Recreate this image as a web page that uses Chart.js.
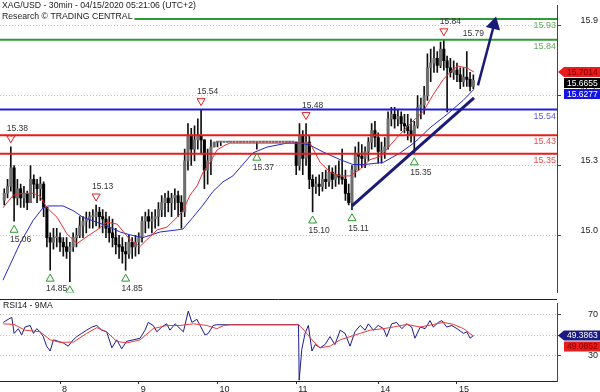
<!DOCTYPE html>
<html>
<head>
<meta charset="utf-8">
<script src="https://cdn.jsdelivr.net/npm/chart.js@4/dist/chart.umd.min.js"></script>
<style>
  html, body { margin: 0; padding: 0; background: #fff; }
  #wrap { position: relative; width: 600px; height: 392px; overflow: hidden; }
  #priceBox { position: absolute; left: 0; top: 0; width: 600px; height: 298px; }
  #rsiBox { position: absolute; left: 0; top: 298px; width: 600px; height: 94px; }
</style>
</head>
<body>
<div id="wrap">
  <div id="priceBox"><canvas id="priceChart" width="600" height="298"></canvas></div>
  <div id="rsiBox"><canvas id="rsiChart" width="600" height="94"></canvas></div>
</div>
<script>
const FONT = '"Liberation Sans", Arial, Helvetica, sans-serif';

const titleLines = ['XAG/USD - 30min - 04/15/2020 05:21:06 (UTC+2)', 'Research © TRADING CENTRAL'];
const rsiTitle = 'RSI14 - 9MA';

// x axis is in hours (weekend skipped), day labels sit on these hours
const dayTickHours = [24, 48, 72, 96, 121, 145];
const dayTickLabels = ['8', '9', '10', '11', '14', '15'];
const priceTicks = [15.0, 15.3, 15.6, 15.9];
const rsiTicks = [30, 50, 70];

// hourly candles, first one at hour 7; open = previous close
const firstHour = 7;
const firstOpen = 15.15;
const highs = [
  15.20, 15.24, 15.38, 15.30, 15.24, 15.22, 15.21, 15.19, 15.30, 15.26, 15.24, 15.25,
  15.23, 15.12, 15.01, 15.03, 15.03, 15.01, 14.99, 14.99, 14.97, 15.01, 15.03, 15.08,
  15.08, 15.10, 15.10, 15.11, 15.13, 15.12, 15.11, 15.10, 15.08, 15.07, 15.03, 15.00,
  14.99, 14.97, 15.00, 14.99, 15.00, 15.01, 15.08, 15.10, 15.11, 15.10, 15.11, 15.14,
  15.17, 15.18, 15.19, 15.18, 15.20, 15.19, 15.17, 15.37, 15.48, 15.46, 15.47, 15.50,
  15.54, 15.41, 15.37, 15.41, 15.40, 15.40, 15.40, 15.40, 15.40, 15.40, 15.40, 15.40,
  15.40, 15.40, 15.40, 15.40, 15.40, 15.40, 15.40, 15.40, 15.40, 15.40, 15.40, 15.40,
  15.40, 15.40, 15.40, 15.40, 15.40, 15.40, 15.48, 15.45, 15.48, 15.43, 15.26, 15.25,
  15.26, 15.27, 15.28, 15.30, 15.29, 15.30, 15.32, 15.37, 15.28, 15.22, 15.30, 15.38,
  15.40, 15.39, 15.38, 15.42, 15.48, 15.49, 15.44, 15.40, 15.42, 15.53, 15.55, 15.55,
  15.54, 15.53, 15.52, 15.52, 15.50, 15.49, 15.60, 15.59, 15.64, 15.78, 15.80, 15.81,
  15.79, 15.83, 15.84, 15.77, 15.76, 15.75, 15.74, 15.72, 15.72, 15.79, 15.70, 15.69
];
const lows = [
  15.13, 15.16, 15.19, 15.06, 15.13, 15.12, 15.12, 15.11, 15.14, 15.16, 15.14, 15.15,
  15.08, 14.95, 14.85, 14.94, 14.95, 14.93, 14.91, 14.90, 14.80, 14.93, 14.95, 14.99,
  14.99, 15.01, 15.03, 15.03, 15.04, 15.03, 15.01, 14.99, 14.97, 14.95, 14.92, 14.90,
  14.88, 14.85, 14.90, 14.90, 14.91, 14.92, 14.97, 15.01, 15.03, 15.01, 15.03, 15.04,
  15.08, 15.08, 15.10, 15.08, 15.11, 15.08, 15.03, 15.08, 15.28, 15.30, 15.32, 15.37,
  15.35, 15.20, 15.22, 15.26, 15.38, 15.38, 15.385, 15.40, 15.40, 15.40, 15.40, 15.40,
  15.40, 15.40, 15.40, 15.40, 15.40, 15.37, 15.40, 15.40, 15.40, 15.40, 15.40, 15.40,
  15.40, 15.40, 15.40, 15.40, 15.40, 15.26, 15.28, 15.26, 15.30, 15.20, 15.10, 15.18,
  15.17, 15.19, 15.20, 15.21, 15.20, 15.21, 15.22, 15.22, 15.15, 15.13, 15.11, 15.25,
  15.28, 15.29, 15.29, 15.32, 15.37, 15.38, 15.31, 15.31, 15.33, 15.37, 15.47, 15.46,
  15.47, 15.45, 15.44, 15.41, 15.40, 15.35, 15.46, 15.50, 15.52, 15.58, 15.66, 15.70,
  15.70, 15.72, 15.71, 15.53, 15.68, 15.67, 15.66, 15.63, 15.64, 15.64, 15.62, 15.63
];
const closes = [
  15.18, 15.21, 15.29, 15.16, 15.20, 15.16, 15.18, 15.14, 15.24, 15.22, 15.20, 15.22,
  15.12, 14.99, 14.97, 14.99, 14.99, 14.97, 14.95, 14.93, 14.95, 14.99, 15.00, 15.04,
  15.06, 15.07, 15.08, 15.08, 15.10, 15.08, 15.07, 15.03, 15.01, 14.99, 14.96, 14.95,
  14.93, 14.92, 14.97, 14.95, 14.97, 14.99, 15.06, 15.08, 15.06, 15.07, 15.08, 15.11,
  15.14, 15.16, 15.14, 15.16, 15.17, 15.14, 15.10, 15.32, 15.43, 15.37, 15.41, 15.43,
  15.41, 15.28, 15.32, 15.38, 15.40, 15.40, 15.40, 15.40, 15.40, 15.40, 15.40, 15.40,
  15.40, 15.40, 15.40, 15.40, 15.40, 15.40, 15.40, 15.40, 15.40, 15.40, 15.40, 15.40,
  15.40, 15.40, 15.40, 15.40, 15.40, 15.30, 15.43, 15.33, 15.40, 15.24, 15.21, 15.22,
  15.21, 15.24, 15.23, 15.27, 15.24, 15.26, 15.25, 15.24, 15.18, 15.14, 15.28, 15.35,
  15.34, 15.33, 15.36, 15.40, 15.45, 15.42, 15.36, 15.36, 15.38, 15.50, 15.52, 15.50,
  15.51, 15.48, 15.47, 15.45, 15.43, 15.47, 15.55, 15.56, 15.60, 15.72, 15.74, 15.76,
  15.73, 15.80, 15.75, 15.72, 15.70, 15.71, 15.69, 15.66, 15.68, 15.67, 15.64, 15.6655
];

// moving averages
const redMaHours = [6.6, 9.7, 12.7, 15.8, 17.9, 20.0, 23.1, 26.1, 29.2, 32.2, 35.3, 38.3, 41.4, 45.3, 48.4,
  50.5, 53.6, 56.6, 59.7, 61.5, 63.6, 65.8, 67.6, 69.7, 71.9, 74.3, 75.8, 96.0, 100.2, 103.3,
  106.3, 109.4, 112.4, 115.5, 118.5, 121.6, 126.7, 131.6, 134.7, 137.7, 140.8, 143.5, 145.3, 148.1, 150.2];
const redMaValues = [15.118, 15.172, 15.180, 15.180, 15.168, 15.118, 15.077, 15.006, 14.965, 14.994, 15.023, 15.056, 15.048, 14.981, 14.952,
  14.981, 15.023, 15.035, 15.077, 15.106, 15.172, 15.213, 15.271, 15.313, 15.367, 15.387, 15.396, 15.396, 15.396, 15.313,
  15.271, 15.255, 15.255, 15.284, 15.325, 15.338, 15.420, 15.491, 15.532, 15.603, 15.669, 15.710, 15.727, 15.719, 15.7014];
const blueMaHours = [6.6, 11.8, 15.8, 18.8, 20.3, 24.9, 28.0, 31.0, 35.3, 39.2, 42.3, 45.3, 49.3, 54.5, 59.7,
  61.5, 64.5, 67.6, 70.6, 73.7, 76.7, 82.8, 87.1, 93.2, 97.2, 100.2, 104.2, 109.4, 113.3, 117.0,
  122.5, 127.7, 132.2, 136.8, 142.0, 146.9, 150.2];
const blueMaValues = [14.807, 14.965, 15.064, 15.118, 15.126, 15.126, 15.106, 15.077, 15.056, 15.035, 15.014, 15.002, 14.990, 15.014, 15.023,
  15.027, 15.077, 15.130, 15.188, 15.230, 15.255, 15.354, 15.379, 15.396, 15.396, 15.387, 15.358, 15.325, 15.304, 15.304,
  15.313, 15.354, 15.400, 15.462, 15.520, 15.580, 15.6277];

// support / resistance levels
const levelValues = [15.93, 15.84, 15.54, 15.43, 15.35];
const levelColors = ['#2e9a35', '#2e9a35', '#2020d8', '#e81a1a', '#e81a1a'];
const levelTextColors = ['#62ad62', '#62ad62', '#5a5ae0', '#ea5050', '#ea5050'];

// swing markers
const highMarkHours = [9, 35, 67, 99, 141];
const highMarkValues = [15.38, 15.13, 15.54, 15.48, 15.84];
const lowMarkHours = [10, 21, 27, 44, 84, 101, 113, 132];
const lowMarkValues = [15.06, 14.85, 14.80, 14.85, 15.37, 15.10, 15.11, 15.35];
const noteHours = [148];
const noteValues = [15.79];

// drawn trend line and target arrow
const trendHours = [113.0, 150.2];
const trendPrices = [15.126, 15.590];
const arrowHours = [151.4, 156.3];
const arrowPrices = [15.644, 15.905];

// last values shown in the axis boxes
const priceBoxValues = [15.7014, 15.6655, 15.6277];
const rsiBoxValues = [49.3863, 49.0852];

// RSI panel
const rsiHours = [6.7, 8.2, 9.3, 10, 11.3, 12.3, 13.3, 14.9, 15.9, 16.9, 17.9, 18.9, 19.9, 21, 22, 23.5, 25, 26.5, 27.6, 29.1,
  30.6, 32.1, 33.7, 35.2, 36.7, 38.2, 39.8, 41.3, 42.8, 44.3, 46.3, 48.4, 49.9, 50.9, 52.4, 53.5, 55, 56.5, 57.5, 59.1,
  60.6, 61.6, 63.1, 64.2, 65.7, 66.7, 68.2, 69.2, 70.7, 71.8, 96.7, 96.9, 97.7, 98.7, 99.7, 100.8, 101.8, 103.3, 104.8, 106.3,
  107.8, 109.4, 110.9, 112.4, 113.9, 115.5, 117, 118, 119.5, 121, 122.6, 123.6, 125.1, 126.6, 128.2, 129.7, 131.2, 132.2, 133.8, 135.3,
  136.8, 137.8, 139.3, 140.4, 141.9, 143.4, 145, 147, 148, 149, 150];
const rsiValues = [62.5, 65.6, 67.5, 51.6, 56.3, 50, 57.9, 59.5, 51.6, 56.3, 53.2, 48.4, 38.9, 34.1, 45.2, 43.7, 42.1, 38.9, 43.7, 48.4,
  51.6, 54.8, 57.9, 59.5, 54.8, 53.2, 37.3, 45.2, 36.3, 43.7, 45.2, 46.8, 54.8, 62.5, 59.5, 53.2, 57.9, 61.1, 54.8, 61.1,
  56.3, 53.2, 73.8, 62.5, 65.6, 59.5, 50, 51.6, 59.5, 60.2, 60.2, 5, 35.7, 51.6, 59.5, 34.1, 40.5, 37.3, 40.5, 48.4,
  40.5, 54.8, 51.6, 38.9, 53.2, 59.5, 54.8, 61.1, 54.8, 59.5, 56.3, 48.4, 61.1, 62.5, 56.3, 61.1, 57.9, 46.8, 57.9, 56.3,
  64.3, 57.9, 62.5, 64.3, 57.9, 59.5, 56.3, 51.6, 53.2, 46.8, 49.3863];
const rsiMaHours = [6.7, 10, 13.3, 17.9, 21, 24, 28.1, 32.1, 35.2, 38.2, 41.3, 44.3, 48.4, 52.4, 56.5, 60.6, 64.7, 68.7, 71.8, 73.9,
  76, 96.7, 98.4, 100.8, 103.3, 106.3, 109.4, 112.4, 115.5, 118.5, 122.6, 125.6, 129.7, 133.8, 137.8, 140.9, 144, 147, 150];
const rsiMaValues = [61.1, 60.5, 54.8, 53.2, 45.2, 42.7, 43, 51.6, 57.3, 53.2, 43.7, 42.1, 45.2, 56.3, 59.5, 59.5, 61.1, 59.5, 56.3, 59.5,
  60.2, 60.2, 54.8, 45.2, 37.3, 38.9, 45.2, 48.4, 51.6, 54.8, 56.3, 57.9, 60.5, 57.9, 60.5, 62.5, 60.5, 56.3, 49.0852];

const X_MIN = 5.7, X_MAX = 175.5;

const zip = (xs, ys) => xs.map((x, i) => ({ x: x, y: ys[i] }));
const opens = closes.map((c, i) => i === 0 ? firstOpen : closes[i - 1]);
const candleHours = closes.map((c, i) => firstHour + i);

function drawTriangle(ctx, cx, cy, up, color) {
    ctx.beginPath();
    if (up) {
        ctx.moveTo(cx, cy - 3.5); ctx.lineTo(cx + 4, cy + 3.5); ctx.lineTo(cx - 4, cy + 3.5);
    } else {
        ctx.moveTo(cx - 4, cy - 3.5); ctx.lineTo(cx + 4, cy - 3.5); ctx.lineTo(cx, cy + 3.5);
    }
    ctx.closePath();
    ctx.strokeStyle = color;
    ctx.lineWidth = 1;
    ctx.stroke();
}

// value boxes on the right axis, pushed apart so they don't overlap
function drawValueBoxes(ctx, area, yScale, values, bgs, fgs) {
    const items = values.map((v, i) => ({ v: v, y: yScale.getPixelForValue(v), bg: bgs[i], fg: fgs[i] }));
    items.sort((a, b) => a.y - b.y);
    for (let i = 1; i < items.length; i++) {
        items[i].y = Math.max(items[i].y, items[i - 1].y + 11);
    }
    const x0 = area.right + 1;
    ctx.save();
    ctx.font = '8.5px ' + FONT;
    ctx.textAlign = 'left';
    ctx.textBaseline = 'middle';
    items.forEach((it, i) => {
        ctx.fillStyle = it.bg;
        ctx.beginPath();
        if (i === 0) {
            ctx.moveTo(x0, it.y);
            ctx.lineTo(x0 + 6, it.y - 5);
        } else {
            ctx.moveTo(x0 + 6, it.y - 5);
        }
        ctx.lineTo(600, it.y - 5);
        ctx.lineTo(600, it.y + 5);
        ctx.lineTo(x0 + 6, it.y + 5);
        ctx.closePath();
        ctx.fill();
        ctx.fillStyle = it.fg;
        ctx.fillText(it.v.toFixed(4), x0 + 9, it.y + 0.5);
    });
    ctx.restore();
}

const priceDecor = {
    id: 'priceDecor',
    afterDatasetsDraw(chart) {
        const { ctx, chartArea, scales: { x, y } } = chart;
        ctx.save();
        ctx.beginPath();
        ctx.rect(chartArea.left, chartArea.top, chartArea.width, chartArea.height);
        ctx.clip();

        ctx.font = '9px ' + FONT;
        ctx.textAlign = 'right';
        ctx.textBaseline = 'middle';
        levelValues.forEach((v, i) => {
            ctx.fillStyle = levelTextColors[i];
            ctx.fillText(v.toFixed(2), chartArea.right - 1, y.getPixelForValue(v) + 6.5);
        });

        ctx.font = '8.5px ' + FONT;
        ctx.textAlign = 'center';
        ctx.fillStyle = '#333';
        highMarkHours.forEach((h, i) => {
            const px = x.getPixelForValue(h), py = y.getPixelForValue(highMarkValues[i]);
            drawTriangle(ctx, px, py - 7.5, false, '#e02222');
            ctx.fillStyle = '#333';
            ctx.fillText(highMarkValues[i].toFixed(2), px + 6.5, py - 18);
        });
        lowMarkHours.forEach((h, i) => {
            const px = x.getPixelForValue(h), py = y.getPixelForValue(lowMarkValues[i]);
            drawTriangle(ctx, px, py + 7.5, true, '#2a9a2a');
            ctx.fillStyle = '#333';
            ctx.fillText(lowMarkValues[i].toFixed(2), px + 6.5, py + 18.5);
        });
        noteHours.forEach((h, i) => {
            ctx.fillText(noteValues[i].toFixed(2), x.getPixelForValue(h) + 6.5, y.getPixelForValue(noteValues[i]) - 18);
        });
        ctx.restore();

        // title block with white background over the top level line
        ctx.save();
        ctx.font = '8.7px ' + FONT;
        ctx.textAlign = 'left';
        ctx.textBaseline = 'middle';
        titleLines.forEach((t, i) => {
            const w = ctx.measureText(t).width;
            ctx.fillStyle = '#fff';
            ctx.fillRect(0, i * 10.5, w + 4, 10.5);
            ctx.fillStyle = '#222';
            ctx.fillText(t, 2, 6 + i * 10.5);
        });
        ctx.restore();
    },
    afterDraw(chart) {
        drawValueBoxes(chart.ctx, chart.chartArea, chart.scales.y, priceBoxValues,
            ['#e81c1c', '#000', '#1414e6'], ['#7a0000', '#fff', '#fff']);
    }
};

const rsiDecor = {
    id: 'rsiDecor',
    afterDraw(chart) {
        const { ctx, chartArea } = chart;
        ctx.save();
        ctx.strokeStyle = '#222';
        ctx.lineWidth = 1;
        ctx.beginPath();
        ctx.moveTo(0, 1.5);
        ctx.lineTo(chartArea.right, 1.5);
        ctx.stroke();
        ctx.font = '8.7px ' + FONT;
        ctx.fillStyle = '#222';
        ctx.textAlign = 'left';
        ctx.textBaseline = 'middle';
        ctx.fillText(rsiTitle, 3, 8);
        ctx.restore();
        drawValueBoxes(ctx, chartArea, chart.scales.y, rsiBoxValues,
            ['#1a1a80', '#e81c1c'], ['#fff', '#7a0000']);
    }
};

Chart.defaults.font.family = FONT;
Chart.defaults.animation = false;

const levelDatasets = levelValues.map((v, i) => ({
    type: 'line',
    data: [{ x: X_MIN, y: v }, { x: X_MAX, y: v }],
    borderColor: levelColors[i],
    borderWidth: 2,
    pointRadius: 0,
    order: 3
}));

new Chart(document.getElementById('priceChart'), {
    type: 'bar',
    data: {
        datasets: [
            {
                data: candleHours.map((h, i) => ({ x: h, y: [lows[i], highs[i]] })),
                backgroundColor: '#111',
                barThickness: 1,
                grouped: false,
                order: 10
            },
            {
                data: candleHours.map((h, i) => ({ x: h, y: [opens[i], closes[i]] })),
                backgroundColor: closes.map((c, i) => c >= opens[i] ? '#6e6e6e' : '#000'),
                barThickness: 2.4,
                minBarLength: 1,
                grouped: false,
                order: 9
            },
            {
                type: 'line', data: zip(blueMaHours, blueMaValues),
                borderColor: '#2828c8', borderWidth: 1, pointRadius: 0, order: 5
            },
            {
                type: 'line', data: zip(redMaHours, redMaValues),
                borderColor: '#e83030', borderWidth: 1, pointRadius: 0, order: 4
            },
            ...levelDatasets,
            {
                type: 'line', data: zip(trendHours, trendPrices),
                borderColor: '#1a1a78', borderWidth: 3, pointRadius: 0, order: 1
            },
            {
                type: 'line', data: zip(arrowHours, arrowPrices),
                borderColor: '#1a1a78', borderWidth: 2.5,
                pointRadius: [0, 6], pointStyle: 'triangle', rotation: 14,
                pointBackgroundColor: '#1a1a78', pointBorderColor: '#1a1a78',
                order: 1
            }
        ]
    },
    options: {
        responsive: false,
        events: [],
        layout: { autoPadding: false, padding: { left: 0, right: 2, top: 0, bottom: 0 } },
        plugins: { legend: { display: false }, tooltip: { enabled: false } },
        scales: {
            x: { type: 'linear', display: false, min: X_MIN, max: X_MAX, offset: false },
            y: {
                position: 'right',
                min: 14.7535,
                max: 15.988,
                beginAtZero: false,
                afterBuildTicks: s => { s.ticks = priceTicks.map(v => ({ value: v })); },
                afterFit: s => { s.width = 41; },
                ticks: {
                    font: { size: 9 }, color: '#222', padding: 0, crossAlign: 'far', labelOffset: -5,
                    callback: v => Number(v).toFixed(1)
                },
                grid: { color: '#c4c4c4', tickColor: '#444', tickLength: 4 },
                border: { display: true, color: '#444', dash: [1, 2] }
            }
        }
    },
    plugins: [priceDecor]
});

new Chart(document.getElementById('rsiChart'), {
    type: 'line',
    data: {
        datasets: [
            { data: zip(rsiHours, rsiValues), borderColor: '#1d1d8e', borderWidth: 1, pointRadius: 0, order: 2 },
            { data: zip(rsiMaHours, rsiMaValues), borderColor: '#e83a3a', borderWidth: 1, pointRadius: 0, order: 1 }
        ]
    },
    options: {
        responsive: false,
        events: [],
        layout: { autoPadding: false, padding: { left: 0, right: 2, top: 2, bottom: 0 } },
        plugins: { legend: { display: false }, tooltip: { enabled: false } },
        scales: {
            x: {
                type: 'linear', min: X_MIN, max: X_MAX, offset: false,
                afterBuildTicks: s => { s.ticks = dayTickHours.map(v => ({ value: v })); },
                afterFit: s => { s.height = 11; },
                ticks: {
                    font: { size: 9 }, color: '#222', padding: 0, align: 'start', labelOffset: 2,
                    autoSkip: false, maxRotation: 0,
                    callback: v => dayTickLabels[dayTickHours.indexOf(v)]
                },
                grid: { drawOnChartArea: false, tickColor: '#333', tickLength: 3 },
                border: { display: true, color: '#222' }
            },
            y: {
                position: 'right', min: 4.3, max: 81.4,
                afterBuildTicks: s => { s.ticks = rsiTicks.map(v => ({ value: v })); },
                afterFit: s => { s.width = 41; },
                ticks: { font: { size: 9 }, color: '#222', padding: 0, crossAlign: 'far' },
                grid: { color: '#c4c4c4', tickColor: '#444', tickLength: 4 },
                border: { display: true, color: '#444', dash: [1, 2] }
            }
        }
    },
    plugins: [rsiDecor]
});
</script>
</body>
</html>
